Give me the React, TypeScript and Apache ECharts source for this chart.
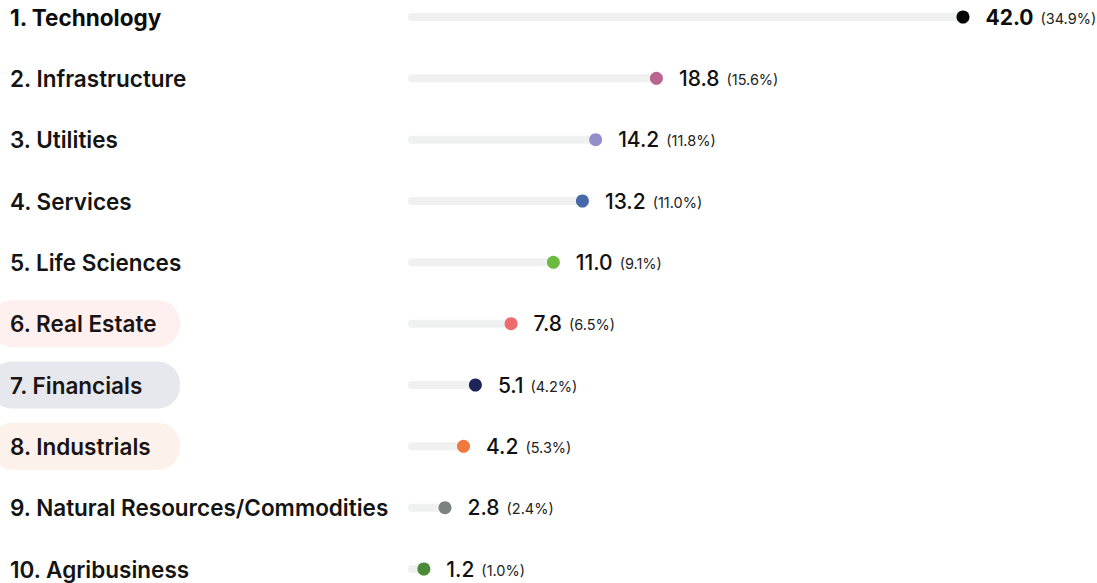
import React, { useEffect, useRef } from "react";
import * as echarts from "echarts";

const categories = [
  "1. Technology",
  "2. Infrastructure",
  "3. Utilities",
  "4. Services",
  "5. Life Sciences",
  "6. Real Estate",
  "7. Financials",
  "8. Industrials",
  "9. Natural Resources/Commodities",
  "10. Agribusiness",
];
const values = [42.0, 18.8, 14.2, 13.2, 11.0, 7.8, 5.1, 4.2, 2.8, 1.2];
const shares = ["34.9%", "15.6%", "11.8%", "11.0%", "9.1%", "6.5%", "4.2%", "5.3%", "2.4%", "1.0%"];
const dotColors = [
  "#050505",
  "#b8658f",
  "#948fc9",
  "#4769a8",
  "#6bbb42",
  "#ee6a6c",
  "#1e2659",
  "#f07a3e",
  "#7d8281",
  "#4a8a38",
];
const highlight: Record<number, string> = {
  5: "hlA",
  6: "hlB",
  7: "hlC",
};

const FONT = "Inter, 'Open Sans', sans-serif";

export default function App() {
  const ref = useRef<HTMLDivElement>(null);
  useEffect(() => {
    if (!ref.current) return;
    const chart = echarts.init(ref.current, null, { renderer: "svg" });
    const pill = (bg: string) => ({
      fontFamily: FONT,
      fontSize: 22.5,
      fontWeight: 600,
      color: "#1a1414",
      lineHeight: 20,
      backgroundColor: bg,
      borderRadius: 22,
      padding: [12, 20, 12, 20],
      width: 150,
    });
    chart.setOption({
      animation: false,
      grid: {
        left: 408,
        right: 134,
        top: 17,
        bottom: 14,
        containLabel: false,
        outerBoundsMode: "none",
      },
      xAxis: {
        type: "value",
        min: 0,
        max: Math.max(...values),
        show: false,
      },
      yAxis: {
        type: "category",
        data: categories,
        inverse: true,
        boundaryGap: false,
        axisLine: { show: false },
        axisTick: { show: false },
        splitLine: { show: false },
        axisLabel: {
          interval: 0,
          align: "left",
          margin: 418,
          formatter: (v: string, i: number) => {
            const key = highlight[i] || (i === 0 ? "b" : "n");
            return `{${key}|${v}}`;
          },
          rich: {
            b: { ...pill("transparent"), fontWeight: 700, color: "#0d0d0d" },
            n: { ...pill("transparent"), color: "#141414" },
            hlA: pill("#fdf0ef"),
            hlB: pill("#e6e8ee"),
            hlC: pill("#fdf1ec"),
          },
        },
      },
      series: [
        {
          type: "bar",
          data: values,
          barWidth: 8,
          itemStyle: { color: "#eff0f0", borderRadius: 4 },
          silent: true,
        },
        {
          type: "scatter",
          data: values.map((v, i) => ({
            value: [v, i],
            itemStyle: { color: dotColors[i], opacity: 1 },
            label: {
              formatter: `{${i === 0 ? "vb" : "v"}|${v.toFixed(1)}}{p|(${shares[i]})}`,
            },
          })),
          symbolSize: 13,
          label: {
            show: true,
            position: "right",
            distance: 16,
            rich: {
              vb: { fontFamily: FONT, fontSize: 21, fontWeight: 700, color: "#0d0d0d" },
              v: { fontFamily: FONT, fontSize: 21, fontWeight: 500, color: "#111111" },
              p: {
                fontFamily: FONT,
                fontSize: 14.5,
                fontWeight: 400,
                color: "#222222",
                padding: [2, 0, 0, 7],
              },
            },
          },
        },
      ],
    });
    return () => chart.dispose();
  }, []);
  return <div ref={ref} style={{ width: 1097, height: 583, position: "absolute", left: 0, top: 0 }} />;
}
